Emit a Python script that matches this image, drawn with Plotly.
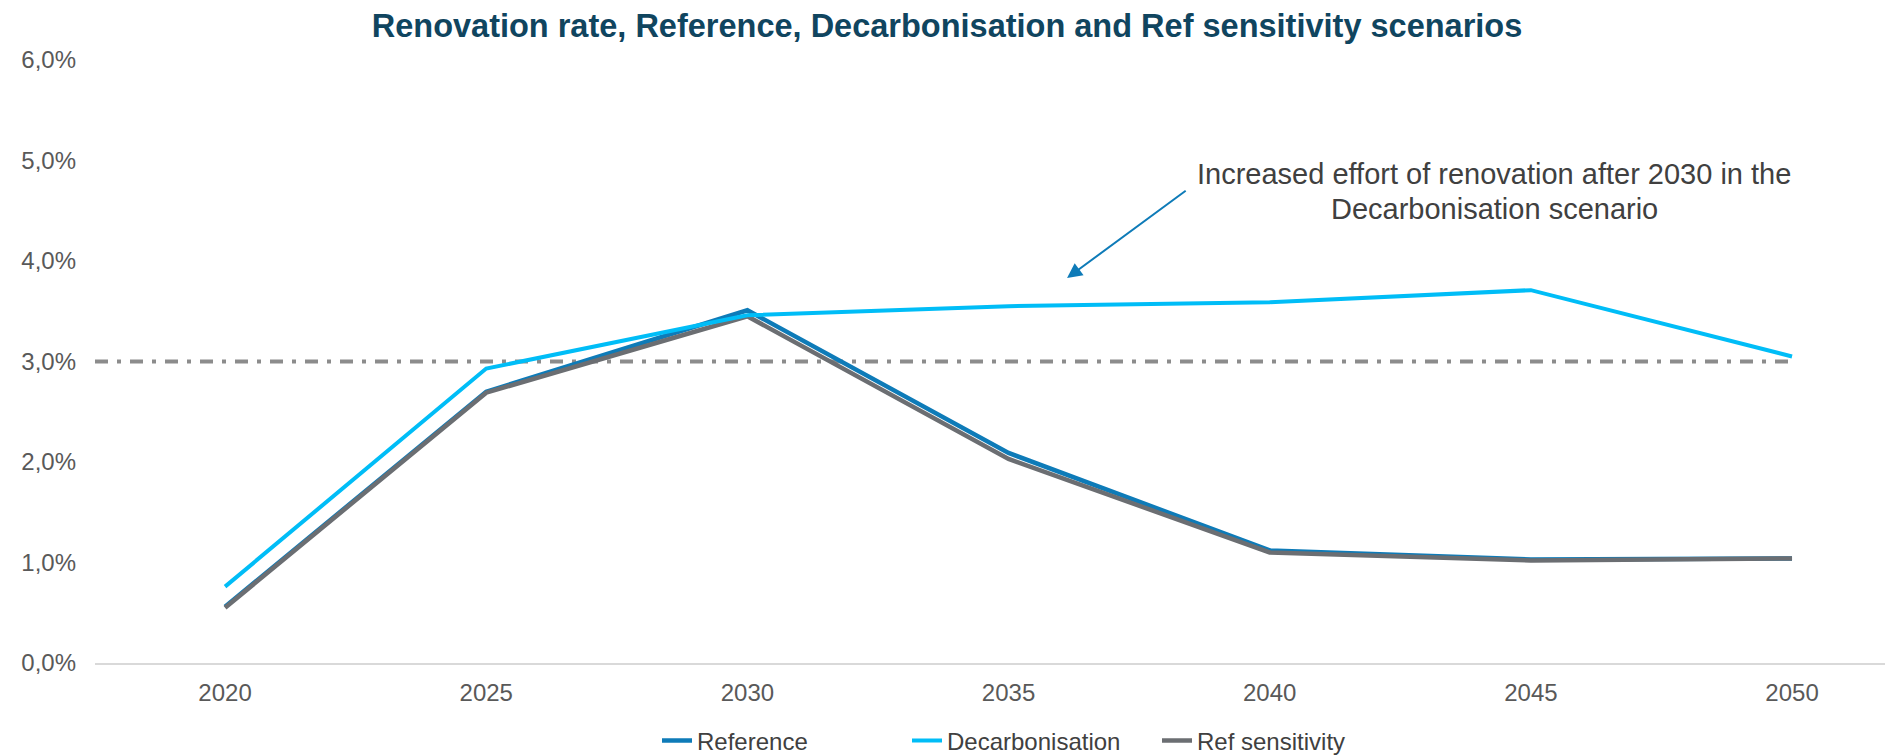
import plotly.graph_objects as go

years = [2020, 2025, 2030, 2035, 2040, 2045, 2050]
reference = [0.56, 2.70, 3.51, 2.09, 1.12, 1.03, 1.04]
decarbonisation = [0.76, 2.93, 3.46, 3.55, 3.59, 3.71, 3.05]
ref_sensitivity = [0.55, 2.69, 3.45, 2.03, 1.10, 1.02, 1.04]
target_rate = 3.0
y_ticks = [0, 1, 2, 3, 4, 5, 6]
note_lines = ["Increased effort of renovation after 2030 in the", "Decarbonisation scenario"]

ref_pct = [v / 100 for v in reference]
dec_pct = [v / 100 for v in decarbonisation]
sens_pct = [v / 100 for v in ref_sensitivity]

x_min, x_max = 2017.51, 2051.78

# page body has an 8px margin: the figure is drawn 8px smaller and offset
W, H = 1895, 747

fig = go.Figure()
# dash-dot target line from the left edge of the plot to the last year
fig.add_trace(go.Scatter(
    x=[x_min, years[-1]], y=[target_rate / 100] * 2, mode="lines",
    line=dict(color="#8C8C8C", width=4, dash="13px,9px,4px,9px"),
    showlegend=False, hoverinfo="skip"))
fig.add_trace(go.Scatter(x=years, y=ref_pct, mode="lines", name="Reference",
                         line=dict(color="#0E7BB8", width=4.5), legendrank=1))
fig.add_trace(go.Scatter(x=years, y=sens_pct, mode="lines", name="Ref sensitivity",
                         line=dict(color="#6B6E72", width=4.5), legendrank=3))
fig.add_trace(go.Scatter(x=years, y=dec_pct, mode="lines", name="Decarbonisation",
                         line=dict(color="#00BDF7", width=4), legendrank=2))

fig.update_layout(
    width=W, height=H,
    margin=dict(l=87, r=18, t=52, b=92, autoexpand=False),
    paper_bgcolor="white", plot_bgcolor="white",
    separators=",.",
    font=dict(family="Liberation Sans, Arial, sans-serif", color="#595959", size=24),
    title=dict(text="<b>Renovation rate, Reference, Decarbonisation and Ref sensitivity scenarios</b>",
               x=939 / W, xanchor="center", y=1 - 18 / H, yanchor="middle",
               font=dict(size=32.5, color="#10455F", family="Liberation Sans, Arial, sans-serif")),
    xaxis=dict(range=[x_min, x_max], tickvals=years, ticktext=[str(y) for y in years],
               showgrid=False, zeroline=False, showline=True, linecolor="#D9D9D9",
               linewidth=2, ticks="", tickfont=dict(size=24, color="#595959"),
               ticklabelstandoff=7, automargin=False),
    yaxis=dict(range=[0, 0.06], tickvals=[t / 100 for t in y_ticks], tickformat=".1%",
               showgrid=False, zeroline=False, showline=False, ticks="",
               tickfont=dict(size=24, color="#595959"), ticklabelstandoff=18,
               automargin=False),
    legend=dict(orientation="h", xref="container", yref="container",
                x=649 / W, xanchor="left", y=1 - 733 / H, yanchor="middle",
                font=dict(size=24, color="#404040"), traceorder="normal",
                entrywidth=205, entrywidthmode="pixels"),
    showlegend=True,
)

fig.add_annotation(
    x=2036.12, y=0.0383, ax=2038.42, ay=0.0471, xref="x", yref="y",
    axref="x", ayref="y", text="", showarrow=True,
    arrowhead=2, arrowsize=1.5, arrowwidth=2, arrowcolor="#0E7BB8")
for line_text, line_y in zip(note_lines, [0.0487, 0.0452]):
    fig.add_annotation(
        x=2044.3, y=line_y, xref="x", yref="y", showarrow=False,
        text=line_text, font=dict(size=29, color="#404040"), align="center",
        xanchor="center", yanchor="middle")

fig.write_html("out.html")
